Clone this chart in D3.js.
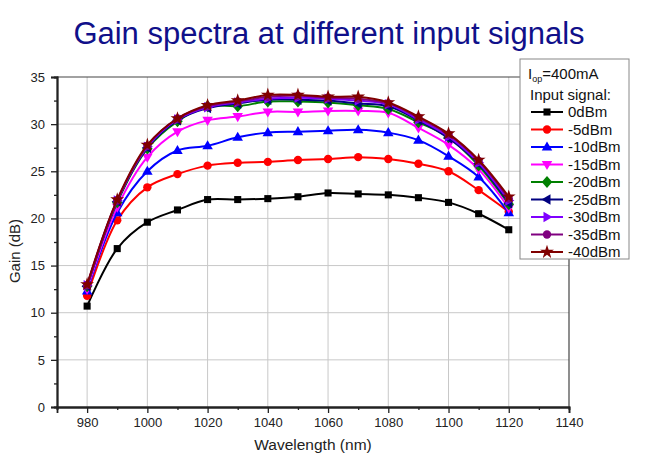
<!DOCTYPE html>
<html><head><meta charset="utf-8">
<script src="https://cdn.jsdelivr.net/npm/d3@7/dist/d3.min.js"></script>
<style>body{margin:0;background:#fff}svg{display:block;font-family:"Liberation Sans",Arial,sans-serif}</style>
</head><body><svg id="c" width="650" height="467"></svg>
<script>
const wavelengths = [980,990,1000,1010,1020,1030,1040,1050,1060,1070,1080,1090,1100,1110,1120];
const seriesNames = ["0dBm","-5dBm","-10dBm","-15dBm","-20dBm","-25dBm","-30dBm","-35dBm","-40dBm"];
const s0  = [10.7,16.8,19.6,20.9,22.0,22.0,22.1,22.3,22.7,22.6,22.5,22.2,21.7,20.5,18.8];
const s5  = [11.8,19.8,23.3,24.7,25.6,25.9,26.0,26.2,26.3,26.5,26.3,25.8,25.0,23.0,20.7];
const s10 = [12.3,20.6,25.0,27.2,27.7,28.6,29.1,29.2,29.3,29.4,29.1,28.3,26.6,24.4,20.6];
const s15 = [12.5,21.2,26.5,29.2,30.4,30.8,31.3,31.3,31.4,31.4,31.2,29.6,27.8,25.2,21.1];
const s20 = [12.8,21.7,27.4,30.3,31.9,31.9,32.4,32.4,32.3,32.0,31.6,30.2,28.6,25.6,21.5];
const s25 = [12.8,21.8,27.5,30.4,31.7,32.2,32.6,32.6,32.5,32.2,31.9,30.4,28.5,25.8,21.6];
const s30 = [12.9,21.9,27.6,30.5,31.8,32.3,32.7,32.8,32.7,32.5,32.1,30.5,28.7,25.9,21.9];
const s35 = [12.9,21.9,27.7,30.6,31.9,32.4,32.9,33.0,32.8,32.7,32.2,30.7,28.9,26.1,22.1];
const s40 = [13.0,22.0,27.8,30.6,32.0,32.5,33.1,33.1,32.9,32.9,32.3,30.8,29.0,26.2,22.3];
const seriesValues = [s0,s5,s10,s15,s20,s25,s30,s35,s40];
const colors = ["#000000","#ff0000","#0000ff","#ff00ff","#008000","#000080","#7f00ff","#800080","#800000"];
const markers = ["square","circle","triUp","triDown","diamond","triLeft","triRight","circle","star"];
const xTicks = [980,1000,1020,1040,1060,1080,1100,1120,1140];
const yTicks = [0,5,10,15,20,25,30,35];

const svg = d3.select("#c");
const L=57, R=569, T=77, B=407;
const x = d3.scaleLinear().domain([970,1140]).range([L,R]);
const y = d3.scaleLinear().domain([0,35]).range([B,T]);

// title
svg.append("text").attr("x",329).attr("y",44).attr("text-anchor","middle")
  .attr("font-size",31).attr("fill","#10108a").text("Gain spectra at different input signals");

// grid
const g = svg.append("g");
g.selectAll(".gx").data(xTicks.slice(0,-1)).join("line")
  .attr("x1",d=>x(d)).attr("x2",d=>x(d)).attr("y1",T).attr("y2",B)
  .attr("stroke","#c8c8c8").attr("stroke-width",1);
g.selectAll(".gy").data(yTicks.slice(1,-1)).join("line")
  .attr("x1",L).attr("x2",R).attr("y1",d=>y(d)).attr("y2",d=>y(d))
  .attr("stroke","#c8c8c8").attr("stroke-width",1);

// frame top/right
svg.append("line").attr("x1",L).attr("x2",R).attr("y1",T).attr("y2",T).attr("stroke","#444").attr("stroke-width",1.2);
svg.append("line").attr("x1",R).attr("x2",R).attr("y1",T).attr("y2",B).attr("stroke","#444").attr("stroke-width",1.2);

// axes
const xAxis = d3.axisBottom(x).tickValues(xTicks).tickSize(6).tickPadding(5).tickFormat(d3.format("d"));
const xMinor = d3.axisBottom(x).tickValues(d3.range(970,1140,20)).tickSize(3).tickFormat("");
const yAxis = d3.axisLeft(y).tickValues(yTicks).tickSize(6).tickPadding(6).tickFormat(d3.format("d"));
const yMinor = d3.axisLeft(y).tickValues(d3.range(2.5,35,5)).tickSize(3).tickFormat("");
function style(sel){sel.select(".domain").attr("stroke","#222").attr("stroke-width",1.8);
  sel.selectAll(".tick line").attr("stroke","#222").attr("stroke-width",1.3);
  sel.selectAll("text").attr("font-size",13).attr("fill","#222").attr("font-family","Liberation Sans, Arial, sans-serif");}
svg.append("g").attr("transform",`translate(0,${B})`).call(xMinor).call(style);
svg.append("g").attr("transform",`translate(0,${B})`).call(xAxis).call(style);
svg.append("g").attr("transform",`translate(${L},0)`).call(yMinor).call(style);
svg.append("g").attr("transform",`translate(${L},0)`).call(yAxis).call(style);

svg.append("text").attr("x",313).attr("y",450).attr("text-anchor","middle").attr("font-size",15.5).attr("fill","#222").text("Wavelength (nm)");
svg.append("text").attr("transform","translate(20,251) rotate(-90)").attr("text-anchor","middle").attr("font-size",15).attr("fill","#222").text("Gain (dB)");

function markerPath(type){
  const s=7;
  switch(type){
    case "square": return d3.symbol(d3.symbolSquare,50)();
    case "circle": return d3.symbol(d3.symbolCircle,55)();
    case "diamond": return `M0,${-s*0.85}L${s*0.75},0L0,${s*0.85}L${-s*0.75},0Z`;
    case "triUp": return `M0,${-s*0.8}L${s*0.75},${s*0.5}L${-s*0.75},${s*0.5}Z`;
    case "triDown": return `M0,${s*0.8}L${s*0.75},${-s*0.5}L${-s*0.75},${-s*0.5}Z`;
    case "triLeft": return `M${-s*0.8},0L${s*0.5},${-s*0.75}L${s*0.5},${s*0.75}Z`;
    case "triRight": return `M${s*0.8},0L${-s*0.5},${-s*0.75}L${-s*0.5},${s*0.75}Z`;
    case "star": return d3.symbol(d3.symbolStar,60)();
  }
}

const line = d3.line().x(d=>x(d[0])).y(d=>y(d[1])).curve(d3.curveCatmullRom.alpha(0.5));
const plot = svg.append("g");
seriesValues.forEach((vals,i)=>{
  const pts = wavelengths.map((w,j)=>[w,vals[j]]);
  plot.append("path").datum(pts).attr("d",line).attr("fill","none").attr("stroke",colors[i]).attr("stroke-width",2);
  plot.selectAll(null).data(pts).join("path").attr("d",markerPath(markers[i]))
    .attr("transform",d=>`translate(${x(d[0])},${y(d[1])})`).attr("fill",colors[i]);
});

// legend
const lg = svg.append("g");
lg.append("rect").attr("x",520).attr("y",59).attr("width",109).attr("height",200).attr("fill","#fff").attr("stroke","#888").attr("stroke-width",1);
const t1 = lg.append("text").attr("x",528).attr("y",79).attr("font-size",15).attr("fill","#111");
t1.append("tspan").text("I");
t1.append("tspan").attr("font-size",9).attr("dy",3).text("op");
t1.append("tspan").attr("dy",-3).text("=400mA");
lg.append("text").attr("x",530).attr("y",100).attr("font-size",15).attr("fill","#111").text("Input signal:");
seriesNames.forEach((n,i)=>{
  const yy = 112 + i*17.5;
  lg.append("line").attr("x1",531).attr("x2",563).attr("y1",yy).attr("y2",yy).attr("stroke",colors[i]).attr("stroke-width",2);
  lg.append("path").attr("d",markerPath(markers[i])).attr("transform",`translate(547,${yy})`).attr("fill",colors[i]);
  lg.append("text").attr("x",568).attr("y",yy+5).attr("font-size",15).attr("fill","#111").text(n);
});
</script></body></html>
